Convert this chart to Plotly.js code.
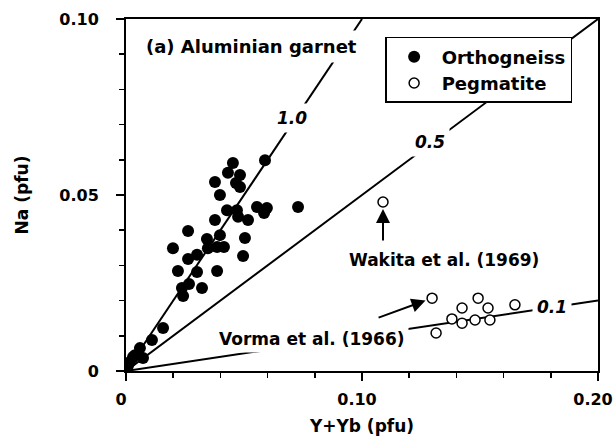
<!DOCTYPE html>
<html>
<head>
<meta charset="utf-8">
<script src="https://cdn.plot.ly/plotly-3.0.1.min.js"></script>
<style>html,body{margin:0;padding:0;background:#fff;}#chart{width:616px;height:442px;}</style>
</head>
<body>
<div id="chart"></div>
<script>
// Orthogneiss (filled circles): Y+Yb vs Na (pfu)
const orthoX = [0.0589,0.0453,0.0432,0.0483,0.0377,0.0466,0.0483,0.0398,0.0428,0.0470,
                0.0475,0.0517,0.0555,0.0597,0.0585,0.0729,0.0377,0.0263,0.0343,0.0398,
                0.0504,0.0199,0.0347,0.0386,0.0415,0.0496,0.0263,0.0301,0.0220,0.0301,
                0.0386,0.0237,0.0267,0.0322,0.0242,0.0157,0.0110,0.0059,0.0038,0.0072,
                0.0030,0.0017,0.0008];
const orthoY = [0.0599,0.0591,0.0563,0.0557,0.0537,0.0534,0.0523,0.0500,0.0457,0.0457,
                0.0438,0.0429,0.0466,0.0463,0.0449,0.0466,0.0429,0.0398,0.0375,0.0386,
                0.0378,0.0349,0.0349,0.0352,0.0352,0.0327,0.0318,0.0330,0.0284,0.0281,
                0.0284,0.0236,0.0247,0.0236,0.0213,0.0122,0.0088,0.0065,0.0045,0.0037,
                0.0040,0.0026,0.0014];
// Pegmatite (open circles); first = Wakita et al. (1969), second = Vorma et al. (1966)
const pegX = [0.1089,0.1297,0.1492,0.1424,0.1534,0.1648,0.1381,0.1424,0.1479,0.1542,0.1314];
const pegY = [0.0480,0.0207,0.0207,0.0179,0.0179,0.0188,0.0148,0.0136,0.0145,0.0145,0.0108];
// Na/(Y+Yb) reference ratios
const ratios = [1.0, 0.5, 0.1];
const ratioLabels = ['1.0', '0.5', '0.1'];
const xTickVals = [0, 0.1, 0.2], xTickText = ['0', '0.10', '0.20'];
const yTickVals = [0, 0.05, 0.1], yTickText = ['0', '0.05', '0.10'];

const XMAX = 0.2, YMAX = 0.1;
const FONT = 'DejaVu Sans';
const traces = [];
ratios.forEach(r => {
  const xe = Math.min(XMAX, YMAX / r);
  traces.push({x: [0, xe], y: [0, r * xe], mode: 'lines', showlegend: false,
    line: {color: '#000', width: 2}, hoverinfo: 'skip'});
});
traces.push({x: orthoX, y: orthoY, mode: 'markers', name: 'Orthogneiss', type: 'scatter',
  marker: {size: 12, color: '#000', line: {width: 0}}});
traces.push({x: pegX, y: pegY, mode: 'markers', name: 'Pegmatite', type: 'scatter',
  marker: {size: 10, color: '#fff', line: {width: 1.5, color: '#000'}}});

const bold = (s) => ({family: FONT, size: s, color: '#000', weight: 700});
const labelPos = [[0.0703, 0.0719], [0.1288, 0.0651], [0.1805, 0.0182]];
const annotations = [
  {x: 0.053, y: 0.0923, xref: 'x', yref: 'y', text: '(a) Aluminian garnet', showarrow: false,
   font: bold(18), bgcolor: '#fff', borderpad: 5},
  {x: 0.1347, y: 0.0315, xref: 'x', yref: 'y', text: 'Wakita et al. (1969)', showarrow: false,
   font: bold(17)},
  {x: 0.0788, y: 0.0092, xref: 'x', yref: 'y', text: 'Vorma et al. (1966)', showarrow: false,
   font: bold(17), bgcolor: '#fff', borderpad: 3},
  {x: pegX[0], y: pegY[0], xref: 'x', yref: 'y', text: '', showarrow: true, ax: 0, ay: 40,
   standoff: 7, arrowhead: 2, arrowsize: 1.4, arrowwidth: 2, arrowcolor: '#000'},
  {x: pegX[1], y: pegY[1], xref: 'x', yref: 'y', text: '', showarrow: true, ax: -55, ay: 20,
   standoff: 7, arrowhead: 2, arrowsize: 1.4, arrowwidth: 2, arrowcolor: '#000'}
];
ratioLabels.forEach((t, i) => {
  annotations.push({x: labelPos[i][0], y: labelPos[i][1], xref: 'x', yref: 'y', text: t,
    showarrow: false, font: Object.assign(bold(17), {style: 'italic'}), bgcolor: '#fff', borderpad: 4});
});

const axisCommon = {
  showgrid: false, zeroline: false, showline: true, linecolor: '#000', linewidth: 2,
  mirror: true, ticks: 'outside', ticklen: 8, tickwidth: 1.5, tickcolor: '#000',
  tickfont: bold(16), tickmode: 'array', fixedrange: true, ticklabeloverflow: 'allow'
};
const layout = {
  width: 616, height: 442,
  margin: {l: 126, r: 18, t: 19, b: 71},
  paper_bgcolor: '#fff', plot_bgcolor: '#fff',
  font: {family: FONT, color: '#000'},
  xaxis: Object.assign({}, axisCommon, {
    range: [0, XMAX], tickvals: xTickVals, ticktext: xTickText, ticklabelstandoff: 5,
    ticklabelshift: -5,
    minor: {dtick: 0.02, tick0: 0, ticks: 'outside', ticklen: 5, tickwidth: 1.5, tickcolor: '#000'},
    title: {text: 'Y+Yb (pfu)', font: bold(17), standoff: 12}
  }),
  yaxis: Object.assign({}, axisCommon, {
    range: [0, YMAX], tickvals: yTickVals, ticktext: yTickText, ticklabelstandoff: 14,
    minor: {dtick: 0.01, tick0: 0, ticks: 'outside', ticklen: 5, tickwidth: 1.5, tickcolor: '#000'},
    title: {text: 'Na (pfu)', font: bold(17), standoff: 26}
  }),
  legend: {x: 0.549, y: 0.949, xanchor: 'left', yanchor: 'top', bgcolor: '#fff',
    bordercolor: '#000', borderwidth: 1.5, font: bold(18), itemwidth: 45,
    traceorder: 'grouped', tracegroupgap: 9},
  annotations: annotations,
  showlegend: true
};
Plotly.newPlot('chart', traces, layout, {displayModeBar: false, staticPlot: true});
</script>
</body>
</html>
